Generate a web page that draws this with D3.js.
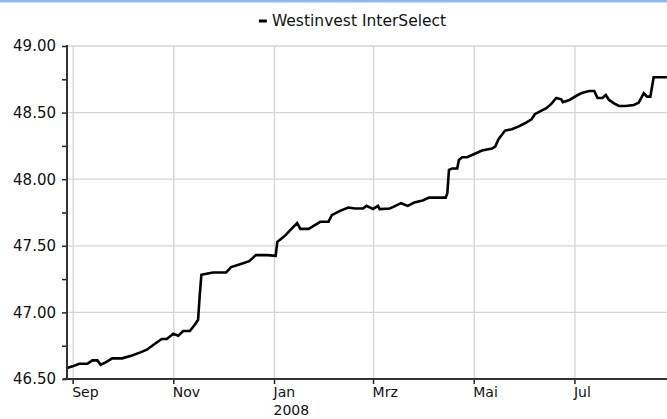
<!DOCTYPE html>
<html><head><meta charset="utf-8">
<script src="https://cdn.jsdelivr.net/npm/d3@7"></script>
<style>
html,body{margin:0;padding:0;background:#fff;}
svg{display:block;}
text{font-family:"DejaVu Sans",sans-serif;}
</style></head>
<body>
<svg id="chart" width="667" height="419"></svg>
<script>
const seriesName = "Westinvest InterSelect";
const dates = ["2007-08-28","2007-09-01","2007-09-05","2007-09-10","2007-09-13","2007-09-16","2007-09-18","2007-09-21","2007-09-25","2007-10-01","2007-10-07","2007-10-12","2007-10-16","2007-10-20","2007-10-25","2007-10-28","2007-11-01","2007-11-04","2007-11-07","2007-11-11","2007-11-14","2007-11-16","2007-11-17","2007-11-18","2007-11-21","2007-11-25","2007-11-29","2007-12-03","2007-12-06","2007-12-11","2007-12-17","2007-12-21","2007-12-28","2008-01-02","2008-01-03","2008-01-05","2008-01-08","2008-01-11","2008-01-15","2008-01-17","2008-01-22","2008-01-25","2008-01-29","2008-02-03","2008-02-05","2008-02-10","2008-02-15","2008-02-19","2008-02-24","2008-02-26","2008-03-01","2008-03-04","2008-03-05","2008-03-11","2008-03-13","2008-03-18","2008-03-22","2008-03-26","2008-03-31","2008-04-04","2008-04-14","2008-04-15","2008-04-16","2008-04-18","2008-04-21","2008-04-22","2008-04-24","2008-04-27","2008-05-01","2008-05-06","2008-05-12","2008-05-14","2008-05-16","2008-05-20","2008-05-24","2008-05-28","2008-06-01","2008-06-05","2008-06-07","2008-06-11","2008-06-14","2008-06-17","2008-06-20","2008-06-23","2008-06-24","2008-06-28","2008-07-03","2008-07-06","2008-07-10","2008-07-13","2008-07-15","2008-07-18","2008-07-20","2008-07-22","2008-07-25","2008-07-28","2008-08-01","2008-08-06","2008-08-09","2008-08-12","2008-08-14","2008-08-16","2008-08-18","2008-08-26"];
const values = [46.58,46.595,46.615,46.615,46.64,46.64,46.607,46.625,46.655,46.655,46.677,46.70,46.72,46.757,46.80,46.80,46.84,46.825,46.86,46.86,46.907,46.945,47.13,47.282,47.29,47.30,47.30,47.30,47.34,47.36,47.385,47.43,47.43,47.425,47.53,47.55,47.58,47.62,47.67,47.627,47.627,47.65,47.68,47.68,47.73,47.762,47.787,47.78,47.78,47.80,47.777,47.80,47.775,47.78,47.79,47.82,47.80,47.825,47.84,47.862,47.862,47.895,48.07,48.08,48.08,48.145,48.165,48.165,48.187,48.215,48.23,48.245,48.30,48.365,48.375,48.395,48.42,48.45,48.488,48.515,48.533,48.565,48.61,48.60,48.578,48.595,48.632,48.65,48.662,48.662,48.61,48.61,48.632,48.595,48.57,48.55,48.55,48.557,48.575,48.645,48.62,48.62,48.765,48.765];
const xTickDates = ["2007-09-01","2007-11-01","2008-01-01","2008-03-01","2008-05-01","2008-07-01"];
const xTickLabels = ["Sep","Nov","Jan","Mrz","Mai","Jul"];
const xYearLabels = ["","","2008","","",""];
const yTicks = [46.5,47.0,47.5,48.0,48.5,49.0];
const yMinorTicks = [46.75,47.25,47.75,48.25,48.75];

const parse = d3.timeParse("%Y-%m-%d");
const data = dates.map((d,i)=>({date:parse(d), value:values[i]}));

const svg = d3.select("#chart");
const L=67, R=667, T=46, B=379;
const FS = 15, FSX = 14;

const x = d3.scaleTime()
  .domain([new Date(2007,7,28,14), new Date(2008,7,26,2)])
  .range([L,R]);
const y = d3.scaleLinear().domain([46.5,49]).range([B,T]);

// top header band
svg.append("rect").attr("x",0).attr("y",0).attr("width",667).attr("height",2).attr("fill","#8fb8ea");
svg.append("rect").attr("x",0).attr("y",2).attr("width",667).attr("height",1).attr("fill","#cfe0f6");

// gridlines
const xt = xTickDates.map(parse);
svg.append("g").selectAll("line").data(xt).join("line")
  .attr("x1",d=>x(d)+0.5).attr("x2",d=>x(d)+0.5).attr("y1",T).attr("y2",B)
  .attr("stroke","#d4d4d4").attr("stroke-width",1.3);
svg.append("g").selectAll("line").data(yTicks).join("line")
  .attr("x1",L).attr("x2",R).attr("y1",d=>y(d)).attr("y2",d=>y(d))
  .attr("stroke","#d4d4d4").attr("stroke-width",1.3);

// line
const line = d3.line().x(d=>x(d.date)).y(d=>y(d.value)).curve(d3.curveLinear);
svg.append("path").datum(data).attr("d",line)
  .attr("fill","none").attr("stroke","#000").attr("stroke-width",2.6)
  .attr("stroke-linejoin","miter");

// y axis
const yAxis = d3.axisLeft(y).tickValues(yTicks).tickFormat(d3.format(".2f")).tickSize(5).tickPadding(6);
const gy = svg.append("g").attr("transform",`translate(${L},0)`).call(yAxis);
gy.select(".domain").remove();
gy.selectAll(".tick line").attr("stroke","#222").attr("stroke-width",1.5);
gy.selectAll("text").attr("font-size",FS).attr("fill","#111").attr("font-family","DejaVu Sans");
const yMinor = d3.axisLeft(y).tickValues(yMinorTicks).tickFormat("").tickSize(5);
const gym = svg.append("g").attr("transform",`translate(${L},0)`).call(yMinor);
gym.select(".domain").remove();
gym.selectAll(".tick line").attr("stroke","#222").attr("stroke-width",1.5);
svg.append("line").attr("x1",L).attr("x2",L).attr("y1",T-1).attr("y2",B+1)
  .attr("stroke","#333").attr("stroke-width",2);

// x axis
const xAxis = d3.axisBottom(x).tickValues(xt).tickFormat((d,i)=>xTickLabels[i]).tickSize(5).tickPadding(3);
const gx = svg.append("g").attr("transform",`translate(0,${B})`).call(xAxis);
gx.select(".domain").remove();
gx.selectAll(".tick line").attr("stroke","#222").attr("stroke-width",1.5);
gx.selectAll(".tick text").attr("text-anchor","start").attr("dx","-1")
  .attr("font-size",FSX).attr("fill","#111").attr("font-family","DejaVu Sans");
gx.selectAll(".tick").append("text")
  .attr("x",-1).attr("y",36).attr("text-anchor","start")
  .attr("font-size",FSX).attr("fill","#111").attr("font-family","DejaVu Sans")
  .text((d,i)=>xYearLabels[i]);
svg.append("line").attr("x1",L-4).attr("x2",R).attr("y1",B).attr("y2",B)
  .attr("stroke","#333").attr("stroke-width",2);

// legend
const lg = svg.append("g").attr("transform","translate(359,21)");
const lt = lg.append("text").attr("x",0).attr("y",0).attr("text-anchor","middle")
  .attr("font-size",15.5).attr("fill","#111").attr("dominant-baseline","middle").text(seriesName);
const bb = lt.node().getBBox();
lg.append("rect").attr("x",bb.x-13).attr("y",-1.5).attr("width",8).attr("height",3).attr("fill","#000");
</script>
</body></html>
